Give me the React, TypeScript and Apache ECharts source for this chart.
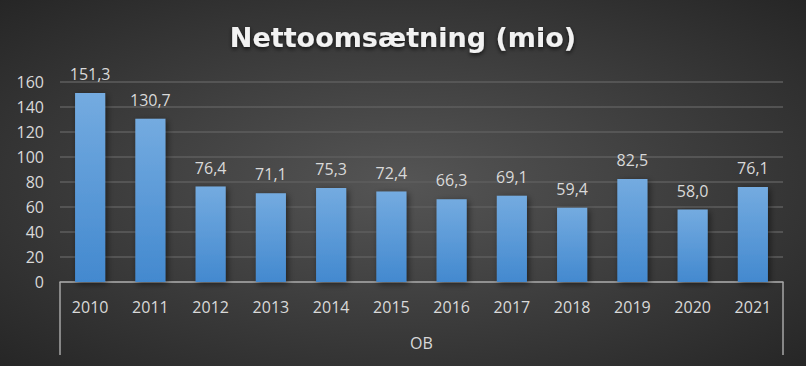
import React, { useEffect, useRef } from "react";
import * as echarts from "echarts";

const categories = ["2010", "2011", "2012", "2013", "2014", "2015", "2016", "2017", "2018", "2019", "2020", "2021"];
const values = [151.3, 130.7, 76.4, 71.1, 75.3, 72.4, 66.3, 69.1, 59.4, 82.5, 58.0, 76.1];
const groupLabels = ["OB"];
const titleText = "Nettoomsætning (mio)";

const FONT = '"Open Sans", "Noto Sans", sans-serif';
const TEXT_COLOR = "#d9d9d9";

export default function App() {
  const ref = useRef<HTMLDivElement>(null);
  useEffect(() => {
    if (!ref.current) return;
    const chart = echarts.init(ref.current, null, { renderer: "svg" });
    chart.setOption({
      animation: false,
      backgroundColor: {
        type: "radial",
        x: 0.5,
        y: 0.5,
        r: 0.75,
        colorStops: [
          { offset: 0, color: "#555555" },
          { offset: 1, color: "#232323" },
        ],
      },
      title: {
        text: titleText,
        left: "center",
        top: 19,
        textStyle: {
          color: "#f2f2f2",
          fontFamily: '"DejaVu Sans", sans-serif',
          fontWeight: "bold",
          fontSize: 27,
          textShadowColor: "rgba(0,0,0,0.7)",
          textShadowBlur: 4,
          textShadowOffsetY: 2,
        },
      },
      grid: { left: 60, right: 23, top: 82, bottom: 84 },
      xAxis: [
        {
          type: "category",
          data: categories,
          position: "bottom",
          axisLine: { show: false },
          axisTick: { show: false },
          axisLabel: { color: TEXT_COLOR, fontFamily: FONT, fontSize: 16, margin: 17 },
        },
        {
          type: "category",
          data: groupLabels,
          position: "bottom",
          axisLine: { show: true, lineStyle: { color: "#a6a6a6", width: 1.5 } },
          axisTick: { show: true, length: 73, lineStyle: { color: "#a6a6a6", width: 1.5 } },
          axisLabel: { color: TEXT_COLOR, fontFamily: FONT, fontSize: 16, margin: 53 },
        },
      ],
      yAxis: {
        type: "value",
        min: 0,
        max: 160,
        interval: 20,
        axisLine: { show: false },
        axisTick: { show: false },
        axisLabel: { color: TEXT_COLOR, fontFamily: FONT, fontSize: 16, margin: 16 },
        splitLine: { lineStyle: { color: "#5e5e5e", width: 1.5 } },
      },
      series: [
        {
          type: "bar",
          xAxisIndex: 0,
          data: values,
          barWidth: "50%",
          itemStyle: {
            color: {
              type: "linear",
              x: 0,
              y: 0,
              x2: 0,
              y2: 1,
              colorStops: [
                { offset: 0, color: "#74abe0" },
                { offset: 1, color: "#4389cf" },
              ],
            },
            shadowColor: "rgba(0,0,0,0.5)",
            shadowBlur: 6,
            shadowOffsetX: 2,
            shadowOffsetY: 2,
          },
          label: {
            show: true,
            position: "top",
            distance: 11,
            color: TEXT_COLOR,
            fontFamily: FONT,
            fontSize: 16,
            formatter: (p: any) => p.value.toFixed(1).replace(".", ","),
          },
        },
      ],
    });
    return () => chart.dispose();
  }, []);
  return <div ref={ref} style={{ width: 806, height: 366, position: "absolute", left: 0, top: 0 }} />;
}
